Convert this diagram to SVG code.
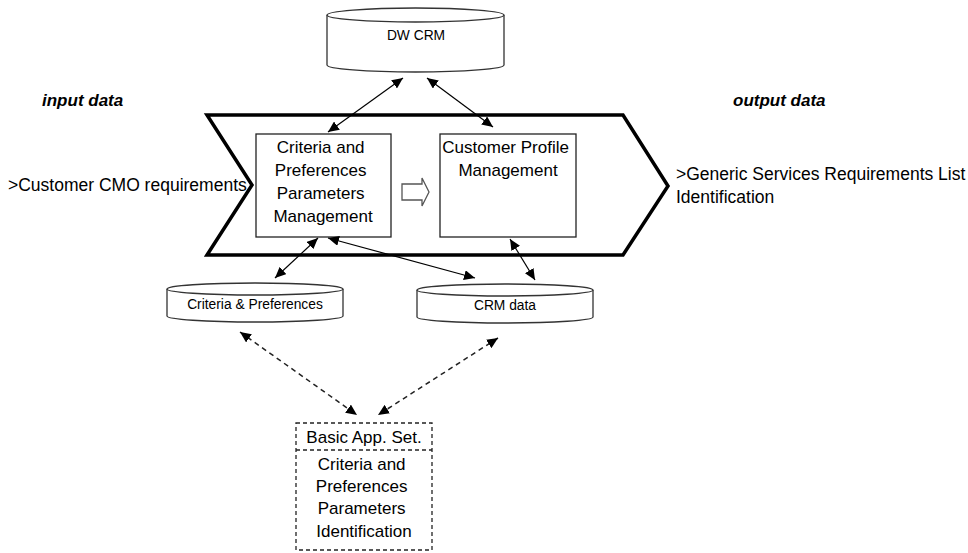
<svg xmlns="http://www.w3.org/2000/svg" width="968" height="553" viewBox="0 0 968 553">
  <defs>
    <marker id="arr" viewBox="0 0 11 10" refX="11" refY="5" markerWidth="11" markerHeight="10" markerUnits="userSpaceOnUse" orient="auto-start-reverse">
      <path d="M0,0 L11,5 L0,10 Z" fill="#000"/>
    </marker>
  </defs>
  <style>
    .txt { font-family: "Liberation Sans", Arial, sans-serif; fill: #000; }
    .main { font-size: 17px; }
    .side { font-size: 17.5px; }
    .small { font-size: 13.8px; }
    .hdr { font-size: 17px; font-weight: bold; font-style: italic; }
    .cyl { fill: #fff; stroke: #333; stroke-width: 1.3; }
    .box { fill: #fff; stroke: #222; stroke-width: 1.3; }
    .link { fill: none; stroke: #000; stroke-width: 1.2; marker-start: url(#arr); marker-end: url(#arr); }
    .dash { fill: none; stroke: #222; stroke-width: 1.5; stroke-dasharray: 5 4; marker-start: url(#arr); marker-end: url(#arr); }
  </style>

  <rect width="968" height="553" fill="#fff"/>

  <!-- side labels -->
  <text class="txt hdr" x="42" y="106">input data</text>
  <text class="txt hdr" x="733" y="106">output data</text>
  <text class="txt side" x="8" y="191">&gt;Customer CMO requirements</text>
  <text class="txt side" x="676" y="180">&gt;Generic Services Requirements List</text>
  <text class="txt side" x="676" y="203">Identification</text>

  <!-- process chevron -->
  <g id="process">
    <path d="M207,115 L623,115 L668,186 L623,255 L207,255 L252,185 Z" fill="#fff" stroke="#000" stroke-width="3.5" stroke-linejoin="miter"/>
  </g>

  <!-- data stores -->
  <g id="dw-crm">
    <path class="cyl" d="M327,15 L327,65 A88.5,7 0 0 0 504,65 L504,15"/>
    <ellipse class="cyl" cx="415.5" cy="15" rx="88.5" ry="7"/>
    <text class="txt small" x="416" y="40" text-anchor="middle">DW CRM</text>
  </g>

  <g id="criteria-store">
    <path class="cyl" d="M167,289 L167,316 A88,6 0 0 0 343,316 L343,289"/>
    <ellipse class="cyl" cx="255" cy="289" rx="88" ry="6"/>
    <text class="txt small" x="255" y="309" text-anchor="middle">Criteria &amp; Preferences</text>
  </g>

  <g id="crm-data">
    <path class="cyl" d="M417,290 L417,317 A88,6 0 0 0 593,317 L593,290"/>
    <ellipse class="cyl" cx="505" cy="290" rx="88" ry="6"/>
    <text class="txt small" x="505" y="310" text-anchor="middle">CRM data</text>
  </g>

  <!-- activity boxes -->
  <g id="criteria-mgmt">
    <rect class="box" x="256" y="134" width="135" height="103"/>
    <text class="txt main" text-anchor="middle">
      <tspan x="323" y="153">Criteria and</tspan>
      <tspan x="323" y="176">Preferences</tspan>
      <tspan x="323" y="199">Parameters</tspan>
      <tspan x="323" y="222">Management</tspan>
    </text>
  </g>

  <g id="profile-mgmt">
    <rect class="box" x="440" y="134" width="136" height="103"/>
    <text class="txt main" text-anchor="middle">
      <tspan x="508" y="153">Customer Profile</tspan>
      <tspan x="508" y="176">Management</tspan>
    </text>
  </g>

  <g id="flow-arrow">
    <path d="M402,184 L422,184 L422,178 L429,192 L422,206 L422,200 L402,200 Z" fill="#fff" stroke="#555" stroke-width="1.3"/>
  </g>

  <!-- application set -->
  <g id="basic-app-set">
    <rect x="296" y="423" width="136" height="127" fill="#fff" stroke="#222" stroke-width="1.3" stroke-dasharray="4 3"/>
    <line x1="296" y1="450" x2="432" y2="450" stroke="#222" stroke-width="1.3" stroke-dasharray="4 3"/>
    <text class="txt main" x="364" y="443" text-anchor="middle">Basic App. Set.</text>
    <text class="txt main" text-anchor="middle">
      <tspan x="364" y="470">Criteria and</tspan>
      <tspan x="364" y="492">Preferences</tspan>
      <tspan x="364" y="514">Parameters</tspan>
      <tspan x="364" y="537">Identification</tspan>
    </text>
  </g>

  <!-- connectors -->
  <g id="connectors">
    <line class="link" x1="403" y1="78" x2="328" y2="132"/>
    <line class="link" x1="427" y1="78" x2="493" y2="127"/>
    <line class="link" x1="275" y1="278" x2="318" y2="238"/>
    <line class="link" x1="475" y1="278" x2="328" y2="238"/>
    <line class="link" x1="535" y1="280" x2="510" y2="239"/>
    <line class="dash" x1="240" y1="332" x2="357" y2="415"/>
    <line class="dash" x1="498" y1="338" x2="378" y2="415"/>
  </g>
</svg>
